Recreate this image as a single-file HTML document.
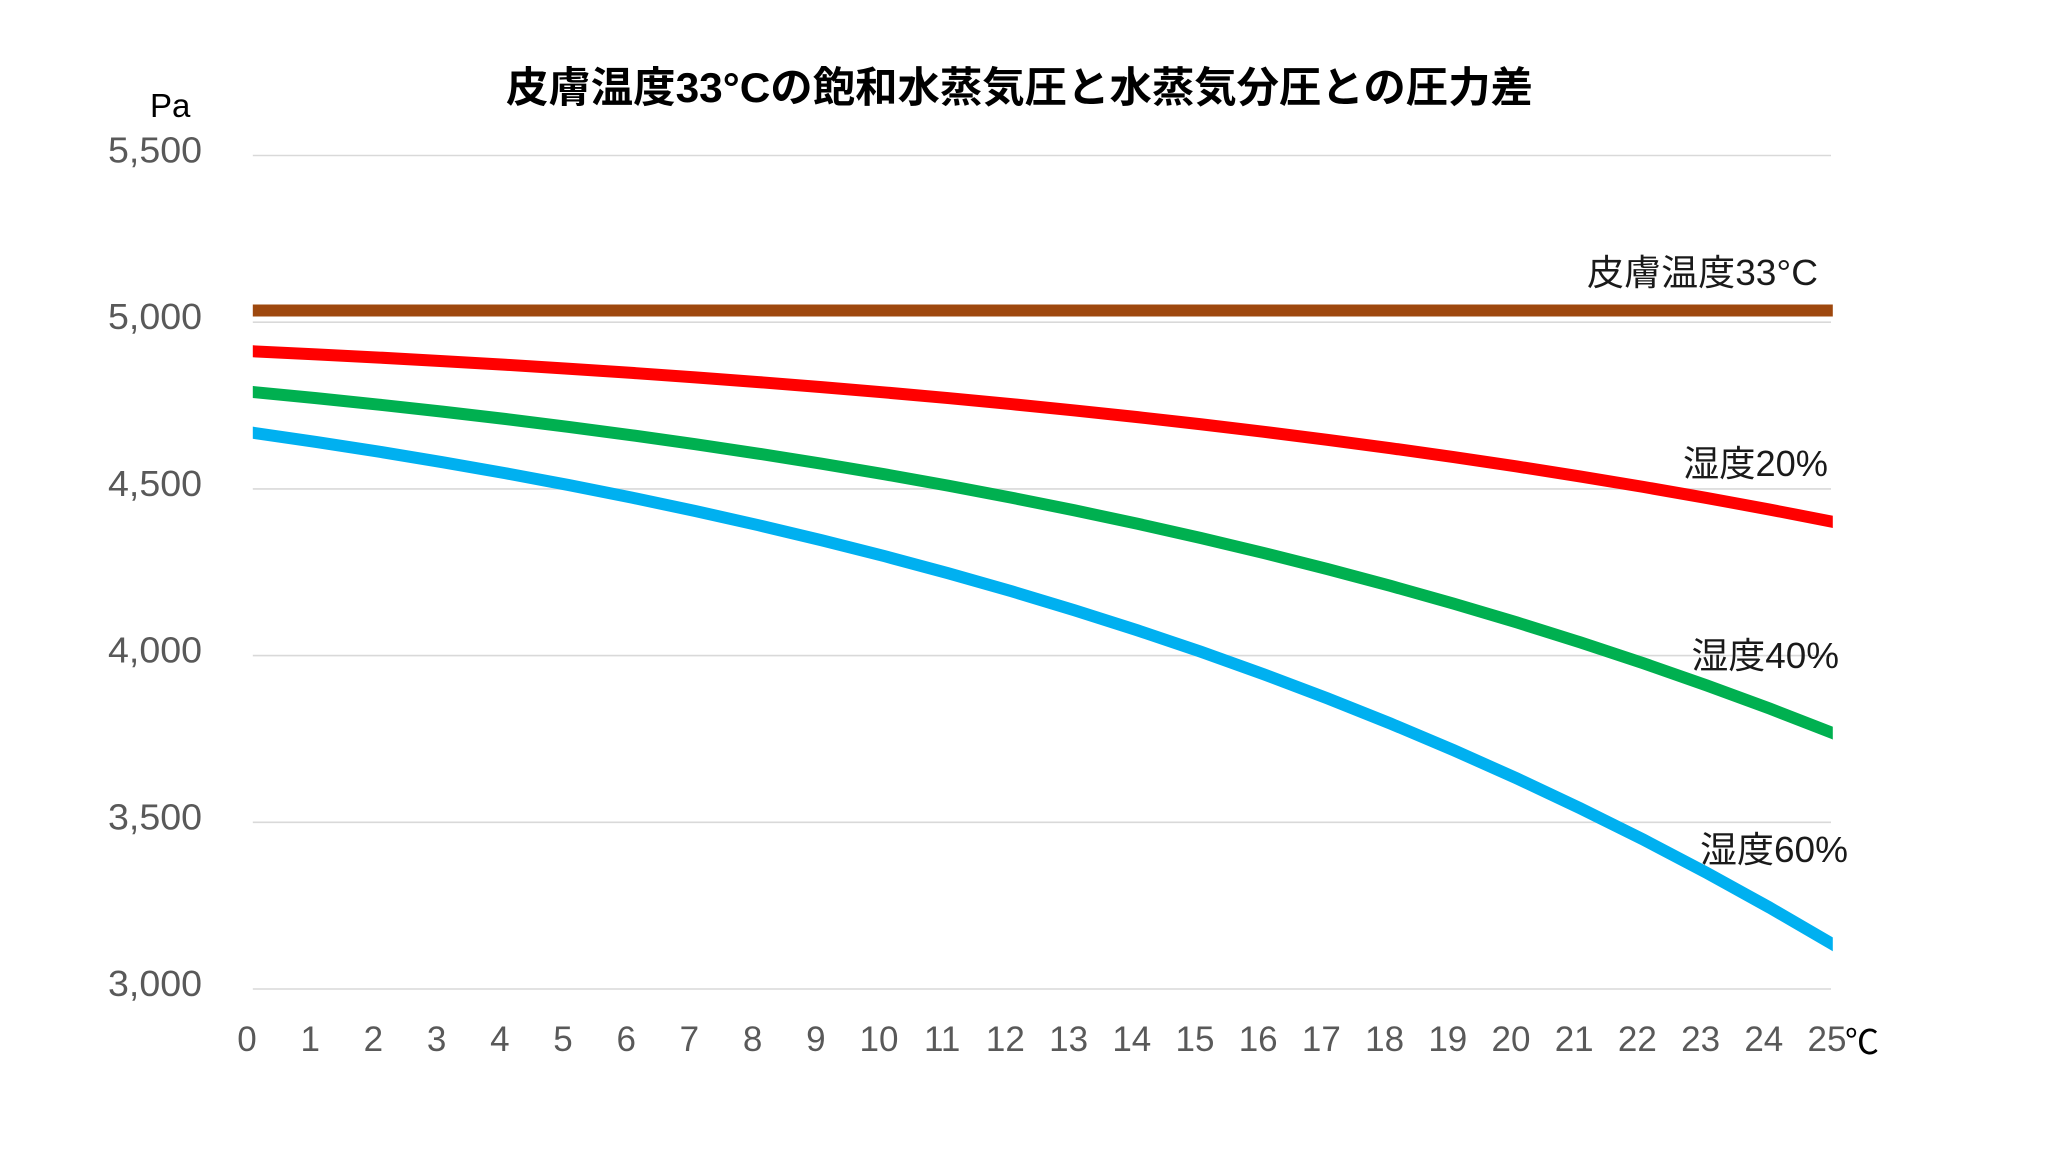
<!DOCTYPE html>
<html>
<head>
<meta charset="utf-8">
<style>
  html, body { margin: 0; padding: 0; background: #ffffff; }
  svg { display: block; }
  text { font-family: "Liberation Sans", "Noto Sans CJK JP", sans-serif; }
</style>
</head>
<body>
<svg width="2048" height="1152" viewBox="0 0 2048 1152" xmlns="http://www.w3.org/2000/svg">
  <rect x="0" y="0" width="2048" height="1152" fill="#ffffff"/>
  <defs>
    <clipPath id="plot">
      <rect x="252.8" y="0" width="1580" height="1152"/>
    </clipPath>
  </defs>

  <!-- Title -->
  <text x="506" y="102" font-size="42" font-weight="bold" fill="#000000" textLength="1027" lengthAdjust="spacingAndGlyphs">皮膚温度33°Cの飽和水蒸気圧と水蒸気分圧との圧力差</text>

  <!-- Unit -->
  <text x="150" y="117" font-size="33" fill="#000000">Pa</text>

  <!-- Gridlines -->
  <g stroke="#d9d9d9" stroke-width="1.6">
    <line x1="252.8" y1="155.5" x2="1831" y2="155.5"/>
    <line x1="252.8" y1="322.2" x2="1831" y2="322.2"/>
    <line x1="252.8" y1="488.9" x2="1831" y2="488.9"/>
    <line x1="252.8" y1="655.6" x2="1831" y2="655.6"/>
    <line x1="252.8" y1="822.3" x2="1831" y2="822.3"/>
    <line x1="252.8" y1="989" x2="1831" y2="989"/>
  </g>

  <!-- Y labels -->
  <g font-size="36" fill="#595959">
    <text x="108" y="162.5" textLength="94" lengthAdjust="spacingAndGlyphs">5,500</text>
    <text x="108" y="329.2" textLength="94" lengthAdjust="spacingAndGlyphs">5,000</text>
    <text x="108" y="495.9" textLength="94" lengthAdjust="spacingAndGlyphs">4,500</text>
    <text x="108" y="662.6" textLength="94" lengthAdjust="spacingAndGlyphs">4,000</text>
    <text x="108" y="829.3" textLength="94" lengthAdjust="spacingAndGlyphs">3,500</text>
    <text x="108" y="996" textLength="94" lengthAdjust="spacingAndGlyphs">3,000</text>
  </g>

  <!-- X labels -->
  <g font-size="35" fill="#595959" text-anchor="middle">
    <text x="247" y="1051">0</text>
    <text x="310.2" y="1051">1</text>
    <text x="373.4" y="1051">2</text>
    <text x="436.6" y="1051">3</text>
    <text x="499.8" y="1051">4</text>
    <text x="563" y="1051">5</text>
    <text x="626.2" y="1051">6</text>
    <text x="689.4" y="1051">7</text>
    <text x="752.6" y="1051">8</text>
    <text x="815.8" y="1051">9</text>
    <text x="879" y="1051">10</text>
    <text x="942.2" y="1051">11</text>
    <text x="1005.4" y="1051">12</text>
    <text x="1068.6" y="1051">13</text>
    <text x="1131.8" y="1051">14</text>
    <text x="1195" y="1051">15</text>
    <text x="1258.2" y="1051">16</text>
    <text x="1321.4" y="1051">17</text>
    <text x="1384.6" y="1051">18</text>
    <text x="1447.8" y="1051">19</text>
    <text x="1511" y="1051">20</text>
    <text x="1574.2" y="1051">21</text>
    <text x="1637.4" y="1051">22</text>
    <text x="1700.6" y="1051">23</text>
    <text x="1763.8" y="1051">24</text>
    <text x="1827" y="1051">25</text>
  </g>
  <text x="1845" y="1054" font-size="34" fill="#000000">℃</text>

  <!-- Series -->
  <g clip-path="url(#plot)" fill="none" stroke-linejoin="round">
    <line x1="240" y1="310.5" x2="1845" y2="310.5" stroke="#9E480E" stroke-width="12"/>
    <g transform="matrix(63.2,0,0,0.066696,252.8,310.535)">
      <polyline vector-effect="non-scaling-stroke" stroke="#FF0000" stroke-width="12"
        points="-0.3,597 0,610.78 1,656.69 2,705.62 3,757.75 4,813.24 5,872.29 6,935.08 7,1001.83 8,1072.74 9,1148.03 10,1227.92 11,1312.67 12,1402.52 13,1497.72 14,1598.56 15,1705.29 16,1818.22 17,1937.66 18,2063.91 19,2197.30 20,2338.18 21,2486.92 22,2643.85 23,2809.35 24,2983.83 25,3167.7 25.3,3223"/>
    </g>
    <g transform="matrix(63.2,0,0,0.133392,252.8,310.535)">
      <polyline vector-effect="non-scaling-stroke" stroke="#00B050" stroke-width="12"
        points="-0.3,597 0,610.78 1,656.69 2,705.62 3,757.75 4,813.24 5,872.29 6,935.08 7,1001.83 8,1072.74 9,1148.03 10,1227.92 11,1312.67 12,1402.52 13,1497.72 14,1598.56 15,1705.29 16,1818.22 17,1937.66 18,2063.91 19,2197.30 20,2338.18 21,2486.92 22,2643.85 23,2809.35 24,2983.83 25,3167.7 25.3,3223"/>
    </g>
    <g transform="matrix(63.2,0,0,0.200088,252.8,310.535)">
      <polyline vector-effect="non-scaling-stroke" stroke="#00B0F0" stroke-width="12"
        points="-0.3,597 0,610.78 1,656.69 2,705.62 3,757.75 4,813.24 5,872.29 6,935.08 7,1001.83 8,1072.74 9,1148.03 10,1227.92 11,1312.67 12,1402.52 13,1497.72 14,1598.56 15,1705.29 16,1818.22 17,1937.66 18,2063.91 19,2197.30 20,2338.18 21,2486.92 22,2643.85 23,2809.35 24,2983.83 25,3167.7 25.3,3223"/>
    </g>
  </g>

  <!-- Series labels -->
  <g font-size="36" fill="#1a1a1a">
    <text x="1587" y="285" textLength="231" lengthAdjust="spacingAndGlyphs">皮膚温度33°C</text>
    <text x="1683" y="476" textLength="145" lengthAdjust="spacingAndGlyphs">湿度20%</text>
    <text x="1691.5" y="668" textLength="147.5" lengthAdjust="spacingAndGlyphs">湿度40%</text>
    <text x="1700" y="862" textLength="148" lengthAdjust="spacingAndGlyphs">湿度60%</text>
  </g>
</svg>
</body>
</html>
